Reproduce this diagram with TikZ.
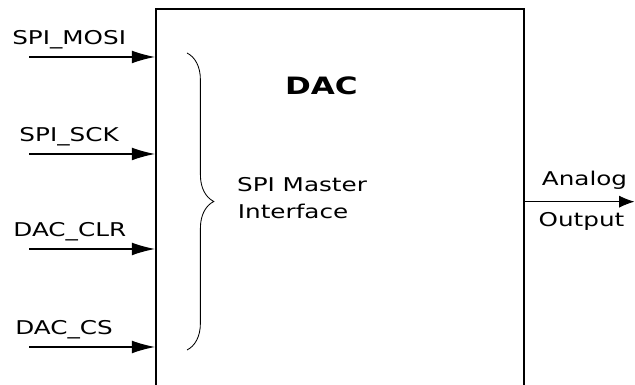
\documentclass[tikz,border=0pt]{standalone}
\usepackage{fontspec}
\usepackage{tikz}
\usetikzlibrary{arrows.meta,decorations.pathreplacing}

\newfontfamily\diagfont{DejaVu Sans}[FakeStretch=1.3]

\tikzset{
  sig/.style={font=\diagfont\fontsize{13.5}{16}\selectfont, inner sep=0pt},
  wire/.style={line width=0.8pt, -{Latex[length=0.58cm,width=0.32cm]}},
}

\begin{document}
\begin{tikzpicture}
        \useasboundingbox (0,0) rectangle (15.875,9.625);

        % the converter block, open at the bottom of the page
        \node[draw, line width=1.4pt, minimum width=9.2cm, minimum height=9.9cm, inner sep=0pt] (dac) at (8.5,4.45) {};

        \node[sig, font=\diagfont\bfseries\fontsize{17}{20}\selectfont, anchor=base west] (title) at (7.12,7.27) {DAC};
        \node[sig, anchor=base west] (spi) at (5.92,4.83) {SPI Master};
        \node[sig, anchor=base west] (intf) at (5.94,4.17) {Interface};

        % inputs
        \foreach \txt/\y/\lx [count=\i] in {SPI\_MOSI/8.2/0.3, SPI\_SCK/5.775/0.48, DAC\_CLR/3.4/0.33, DAC\_CS/0.95/0.375} {
          \coordinate (in\i) at (0.725,\y);
          \node[sig, anchor=base west] (lbl\i) at (\lx,\y+0.31) {\txt};
          \draw[wire] (in\i) -- (in\i -| dac.west);
        }

        \draw[line width=0.6pt, decorate, decoration={brace, amplitude=0.67cm}] (4.675,8.3) -- (4.675,0.875);

        % output
        \coordinate (out) at (15.86,4.583);
        \draw[line width=0.6pt, -{Latex[length=0.38cm,width=0.3cm]}] (dac.east |- out) -- (out);
        \node[sig, anchor=base west] (analog) at (13.54,4.975) {Analog};
        \node[sig, anchor=base west] (output) at (13.46,3.96) {Output};
    \end{tikzpicture}
\end{document}
